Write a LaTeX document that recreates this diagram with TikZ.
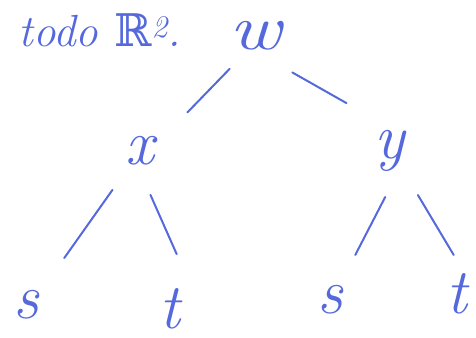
\documentclass[tikz,border=0pt]{standalone}
\usepackage{fontspec}
\newfontfamily\bbfont{DejaVu Serif}
\definecolor{handblue}{RGB}{85,105,220}
\begin{document}
\begin{tikzpicture}[x=1pt,y=-1pt,
  lbl/.style={text=handblue, inner sep=0pt, font=\fontsize{64}{64}\selectfont\itshape},
  edge/.style={draw=handblue, line width=2pt, line cap=round}]
\useasboundingbox (0,0) rectangle (476,337);
\node[lbl, font=\fontsize{45}{45}\selectfont\itshape] (title) at (100,30) {todo {\bbfont\upshape ℝ}\textsuperscript{2}.};
\node[lbl, xscale=1.25] (w) at (255,36) {w};
\node[lbl] (x) at (140,151) {x};
\node[lbl] (y) at (390,151) {y};
\node[lbl] (sl) at (26,305) {s};
\node[lbl] (tl) at (170,309) {t};
\node[lbl] (sr) at (330,300) {s};
\node[lbl] (tr) at (457,294) {t};
\draw[edge, shorten <=45.6pt, shorten >=53.8pt] ([xshift=6.5pt]w.center) -- ([xshift=10pt]x.center);
\draw[edge, shorten <=73.9pt, shorten >=97.2pt] ([xshift=-27pt]w.center) -- ([xshift=41pt]y.center);
\draw[edge, shorten <=47.7pt, shorten >=57.5pt] (x.center) -- ([xshift=5pt]sl.center);
\draw[edge, shorten <=48pt, shorten >=60pt] ([xshift=-9pt]x.center) -- ([xshift=31pt]tl.center);
\draw[edge, shorten <=51.8pt, shorten >=50.7pt] ([xshift=19pt]y.center) -- ([xshift=2pt]sr.center);
\draw[edge, shorten <=51.3pt, shorten >=45.5pt] ([xshift=1.6pt]y.center) -- ([xshift=20pt]tr.center);
\end{tikzpicture}
\end{document}
